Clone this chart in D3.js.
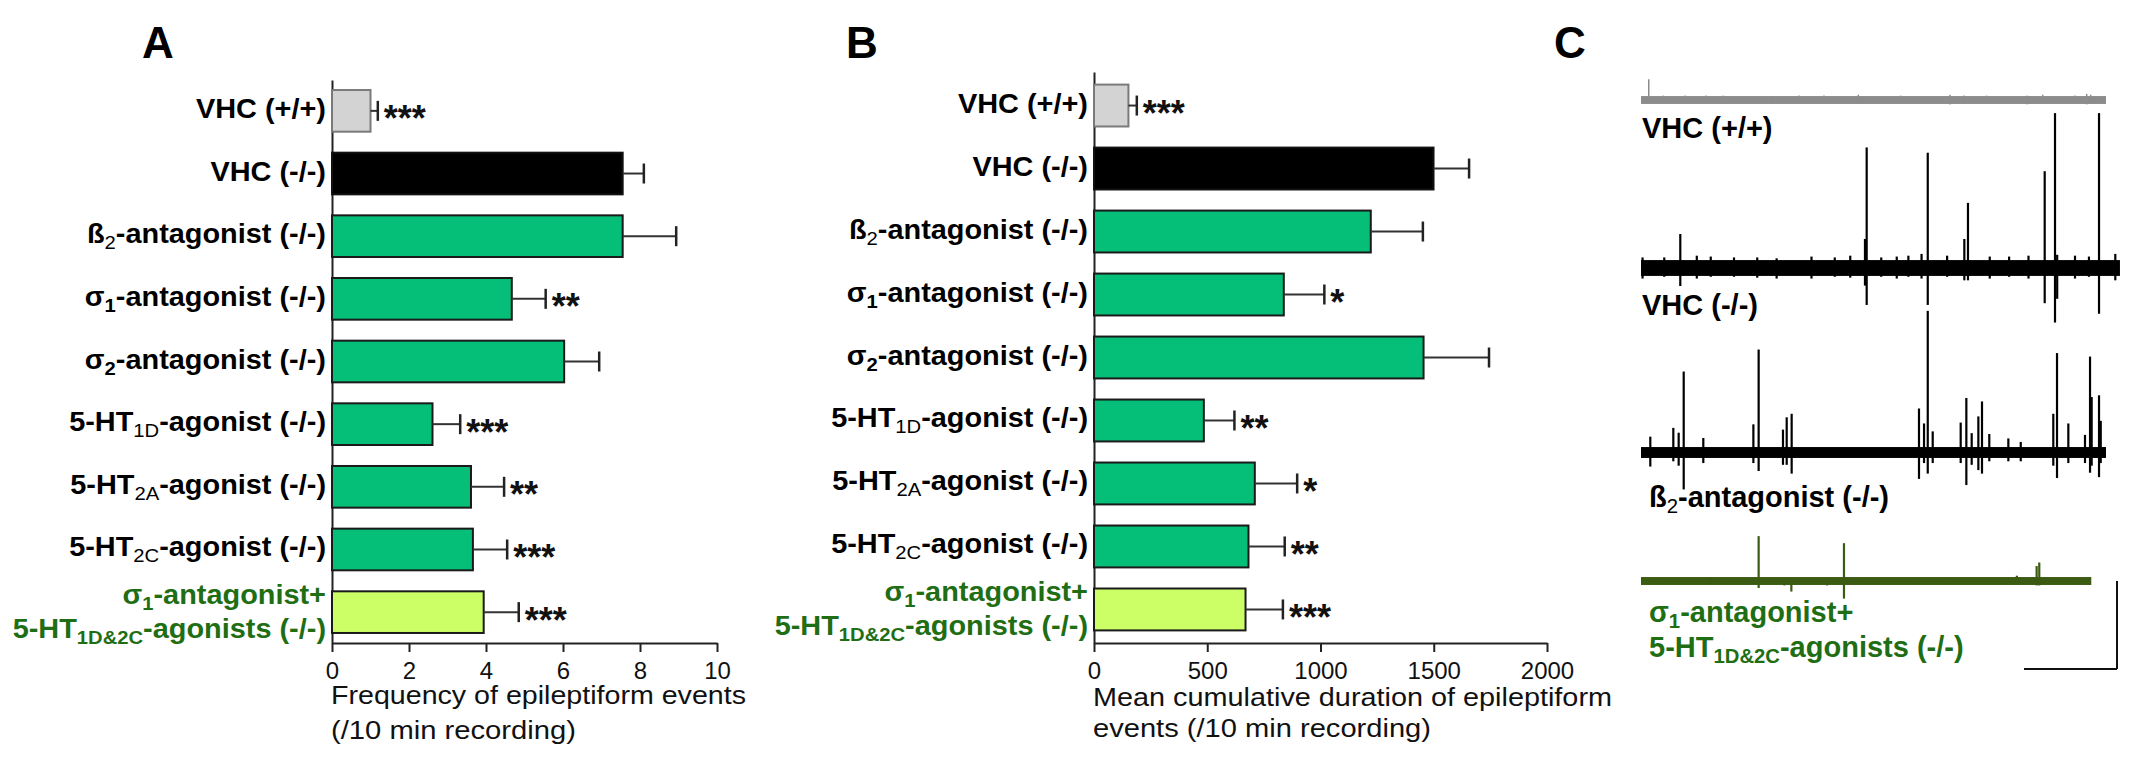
<!DOCTYPE html>
<html>
<head>
<meta charset="utf-8">
<script src="https://cdn.jsdelivr.net/npm/d3@7/dist/d3.min.js"></script>
<style>
  html, body { margin: 0; padding: 0; background: #fff; }
  svg { display: block; font-family: "Liberation Sans", Arial, sans-serif; }
</style>
</head>
<body>
<svg id="chart" width="2141" height="758"></svg>
<script>
// ---------------- DATA ----------------
const categories = [
  "VHC (+/+)",
  "VHC (-/-)",
  "ß_{2}-antagonist (-/-)",
  "σ_{1}-antagonist (-/-)",
  "σ_{2}-antagonist (-/-)",
  "5-HT_{1D}-agonist (-/-)",
  "5-HT_{2A}-agonist (-/-)",
  "5-HT_{2C}-agonist (-/-)",
  "σ_{1}-antagonist+|5-HT_{1D&2C}-agonists (-/-)"
];
const barFills = ["#d3d3d3", "#000000", "#05be78", "#05be78", "#05be78", "#05be78", "#05be78", "#05be78", "#ccff66"];
const barStrokes = ["#7a7a7a", "#111111", "#1a1a1a", "#1a1a1a", "#1a1a1a", "#1a1a1a", "#1a1a1a", "#1a1a1a", "#1a1a1a"];
const labelColors = ["#000", "#000", "#000", "#000", "#000", "#000", "#000", "#000", "#1f6e14"];

// Panel A: frequency of epileptiform events (/10 min)
const freqMean = [1.0, 7.55, 7.55, 4.67, 6.03, 2.61, 3.61, 3.66, 3.94];
const freqSem  = [0.19, 0.55, 1.39, 0.88, 0.91, 0.72, 0.86, 0.89, 0.91];
const freqSig  = ["***", "", "", "**", "", "***", "**", "***", "***"];
const freqTicks = [0, 2, 4, 6, 8, 10];

// Panel B: mean cumulative duration (/10 min)
const durMean = [152, 1499, 1222, 838, 1455, 485, 710, 682, 669];
const durSem  = [37, 157, 230, 179, 289, 135, 187, 160, 165];
const durSig  = ["***", "", "", "*", "", "**", "*", "**", "***"];
const durTicks = [0, 500, 1000, 1500, 2000];

// Panel C: example traces (time in s, amplitude in scale-bar units)
const traceNames = ["VHC (+/+)", "VHC (-/-)", "ß_{2}-antagonist (-/-)", "σ_{1}-antagonist+|5-HT_{1D&2C}-agonists (-/-)"];
const traceColors = ["#8c8c8c", "#000000", "#000000", "#3b5a12"];
const traceLabelColors = ["#000", "#000", "#000", "#1f6e14"];
const traceDurations = [600, 618, 600, 581];
const traceNoise = [0.045, 0.09, 0.062, 0.045];
// spikes: [time, upward amplitude, downward amplitude]
const spikesVHCwt = [
  [10, 0.235, 0.03], [28.8, 0.05, 0.03], [56.8, 0.05, 0.03], [83.9, 0.05, 0.03], [106.2, 0.05, 0.04],
  [168.6, 0.04, 0.04], [203.9, 0.05, 0.03], [236.1, 0.05, 0.03], [280.4, 0.06, 0.04], [307.5, 0.04, 0.03],
  [335, 0.05, 0.03], [398.7, 0.06, 0.05], [416.8, 0.05, 0.03], [446, 0.05, 0.03], [459.8, 0.04, 0.03],
  [498.5, 0.05, 0.05], [518.3, 0.06, 0.03], [560, 0.05, 0.03], [575.1, 0.07, 0.05], [580.2, 0.06, 0.04]
];
const spikesVHCko = [
  [2, 0.12, 0.12], [30, 0.12, 0.1], [50.7, 0.386, 0.205], [72, 0.14, 0.12], [90, 0.13, 0.1], [120, 0.12, 0.1],
  [150, 0.12, 0.11], [175, 0.11, 0.12], [220, 0.13, 0.12], [250, 0.12, 0.1], [270, 0.14, 0.11],
  [289, 0.33, 0.2], [291.2, 1.37, 0.42], [310, 0.12, 0.1], [330, 0.13, 0.12], [345, 0.14, 0.1],
  [362, 0.16, 0.12], [370, 1.31, 0.42], [395, 0.14, 0.1], [417.2, 0.33, 0.14], [421.9, 0.74, 0.14],
  [450, 0.13, 0.12], [475, 0.13, 0.1], [500, 0.14, 0.12], [520.9, 1.10, 0.40],
  [534.2, 1.76, 0.62], [537, 0.15, 0.35], [560, 0.14, 0.12], [578, 0.13, 0.1], [591, 1.76, 0.52], [612, 0.16, 0.14]
];
const spikesBeta2 = [
  [12, 0.18, 0.16], [41.7, 0.28, 0.1], [48.6, 0.225, 0.15], [55.1, 0.92, 0.42], [80.4, 0.165, 0.12],
  [145, 0.32, 0.12], [151.8, 1.17, 0.21], [183.2, 0.26, 0.14], [188, 0.40, 0.14], [194.4, 0.44, 0.24],
  [358.7, 0.50, 0.30], [365.2, 0.33, 0.12], [370, 1.61, 0.24], [376.4, 0.24, 0.12],
  [412.5, 0.34, 0.12], [419.8, 0.62, 0.37], [426.7, 0.22, 0.14], [435.3, 0.41, 0.2], [440, 0.58, 0.24],
  [449.4, 0.21, 0.1], [474, 0.16, 0.1], [490, 0.12, 0.1], [532, 0.44, 0.15], [536.8, 1.13, 0.29],
  [551.4, 0.33, 0.12], [572.9, 0.20, 0.12], [579.4, 1.09, 0.23], [581.5, 0.63, 0.15],
  [591, 0.65, 0.28], [593.2, 0.36, 0.12]
];
const spikesCombo = [
  [27, 0.03, 0.03], [90, 0.04, 0.03], [112, 0.04, 0.03], [151.8, 0.51, 0.08], [185, 0.03, 0.05],
  [194, 0.03, 0.12], [240, 0.03, 0.05], [261.9, 0.43, 0.20], [290, 0.03, 0.04], [305, 0.03, 0.04],
  [355, 0.03, 0.04], [398, 0.04, 0.04], [470, 0.03, 0.04], [485, 0.06, 0.04], [510.5, 0.17, 0.05],
  [513.9, 0.21, 0.05], [560, 0.03, 0.04]
];
const traceSpikes = [spikesVHCwt, spikesVHCko, spikesBeta2, spikesCombo];
const scaleBarTime = 120; // s
const scaleBarAmp = 1;    // amplitude units

// ---------------- DRAW ----------------
const svg = d3.select("#chart");
const FONT = '"Liberation Sans", Arial, sans-serif';

function richText(g, str, opts) {
  const lines = str.split("|");
  const text = g.append("text")
    .attr("text-anchor", opts.anchor || "end")
    .attr("font-size", opts.size)
    .attr("font-weight", "bold")
    .attr("fill", opts.color)
    .attr("font-family", FONT)
    .attr("transform", `translate(${opts.x},${opts.y}) scale(${opts.sx || 1},1)`);
  lines.forEach((line, li) => {
    const tokens = line.split(/(_\{[^}]*\})/).filter(s => s.length);
    let first = true;
    let shifted = false;
    tokens.forEach(tok => {
      const ts = text.append("tspan");
      if (first) ts.attr("x", 0).attr("y", li * opts.lineGap);
      if (tok.startsWith("_{")) {
        ts.text(tok.slice(2, -1))
          .attr("font-size", opts.size * 0.7)
          .attr("font-weight", opts.subWeight || "normal");
        if (first) ts.attr("y", li * opts.lineGap + opts.subDrop);
        else ts.attr("dy", opts.subDrop);
        shifted = true;
      } else {
        ts.text(tok);
        if (shifted) { ts.attr("dy", -opts.subDrop); shifted = false; }
      }
      first = false;
    });
  });
  return text;
}

function barPanel(cfg) {
  const g = svg.append("g");
  const x = d3.scaleLinear().domain(cfg.domain).range(cfg.xRange);
  const y = d3.scaleBand().domain(d3.range(categories.length))
    .range(cfg.yRange).paddingInner(0.335).paddingOuter(cfg.outer);

  g.append("g")
    .attr("transform", `translate(${cfg.xRange[0]},0)`)
    .call(d3.axisLeft(y).tickValues([]).tickSizeOuter(0))
    .call(s => s.select(".domain").attr("stroke", "#222").attr("stroke-width", 2));

  const xa = g.append("g")
    .attr("transform", `translate(0,${cfg.yRange[1]})`)
    .call(d3.axisBottom(x).tickValues(cfg.ticks).tickFormat(d3.format("d"))
      .tickSize(9).tickSizeOuter(0).tickPadding(10));
  xa.select(".domain").attr("stroke", "#222").attr("stroke-width", 2);
  xa.selectAll(".tick line").attr("stroke", "#222").attr("stroke-width", 2);
  xa.selectAll(".tick text").attr("font-size", 24).attr("font-family", FONT).attr("fill", "#111");

  g.selectAll("rect.bar").data(cfg.mean).join("rect")
    .attr("class", "bar")
    .attr("x", x(0))
    .attr("y", (d, i) => y(i))
    .attr("width", d => x(d) - x(0))
    .attr("height", y.bandwidth())
    .attr("fill", (d, i) => barFills[i])
    .attr("stroke", (d, i) => barStrokes[i])
    .attr("stroke-width", 2);

  const eb = g.selectAll("g.err").data(cfg.mean).join("g").attr("class", "err");
  eb.append("line")
    .attr("x1", d => x(d)).attr("x2", (d, i) => x(d + cfg.sem[i]))
    .attr("y1", (d, i) => y(i) + y.bandwidth() / 2).attr("y2", (d, i) => y(i) + y.bandwidth() / 2)
    .attr("stroke", "#333").attr("stroke-width", 2);
  eb.append("line")
    .attr("x1", (d, i) => x(d + cfg.sem[i])).attr("x2", (d, i) => x(d + cfg.sem[i]))
    .attr("y1", (d, i) => y(i) + y.bandwidth() / 2 - 10).attr("y2", (d, i) => y(i) + y.bandwidth() / 2 + 10)
    .attr("stroke", "#222").attr("stroke-width", 2.5);

  g.selectAll("text.sig").data(cfg.mean).join("text")
    .attr("class", "sig")
    .attr("x", (d, i) => x(d + cfg.sem[i]) + 6)
    .attr("y", (d, i) => y(i) + y.bandwidth() / 2 + 20.5)
    .attr("font-size", 36).attr("font-weight", "bold").attr("font-family", FONT)
    .attr("fill", "#111")
    .text((d, i) => cfg.sig[i]);

  categories.forEach((c, i) => {
    const cy = y(i) + y.bandwidth() / 2;
    const twoLine = c.includes("|");
    richText(g, c, {
      x: cfg.xRange[0] - 6,
      y: twoLine ? cy - 8.5 : cy + 7,
      size: 27, sx: 1.07, color: labelColors[i], lineGap: 34, subDrop: 6,
      subWeight: c.startsWith("σ") ? "bold" : "normal"
    });
  });

  cfg.title.forEach((t, li) => {
    g.append("text")
      .attr("x", cfg.xRange[0] - 1).attr("y", cfg.titleY[li])
      .attr("font-size", 26).attr("font-family", FONT).attr("fill", "#111")
      .attr("textLength", cfg.titleLen[li]).attr("lengthAdjust", "spacingAndGlyphs")
      .text(t);
  });

  svg.append("text").attr("x", cfg.letterX).attr("y", 58)
    .attr("font-size", 44).attr("font-weight", "bold").attr("font-family", FONT)
    .text(cfg.letter);
}

barPanel({
  letter: "A", letterX: 142,
  domain: [0, 10], xRange: [332, 717], yRange: [80, 643], outer: 0.16,
  ticks: freqTicks, mean: freqMean, sem: freqSem, sig: freqSig,
  title: ["Frequency of epileptiform events", "(/10 min recording)"],
  titleY: [704, 739], titleLen: [415, 245]
});

barPanel({
  letter: "B", letterX: 846,
  domain: [0, 2000], xRange: [1094, 1547], yRange: [72, 643], outer: 0.2,
  ticks: durTicks, mean: durMean, sem: durSem, sig: durSig,
  title: ["Mean cumulative duration of epileptiform", "events (/10 min recording)"],
  titleY: [706, 737], titleLen: [519, 338]
});

// ---------------- Panel C ----------------
const gc = svg.append("g");
gc.append("text").attr("x", 1554).attr("y", 58)
  .attr("font-size", 44).attr("font-weight", "bold").attr("font-family", FONT).text("C");

const tx = d3.scaleLinear().domain([0, 600]).range([1641, 2106]);
const amp = d3.scaleLinear().domain([0, 1]).range([0, 88]);
const traceBase = [100, 268, 452.5, 581];
const labelPos = [[1642, 138], [1642, 315], [1649, 507], [1649, 622]];

traceNames.forEach((name, k) => {
  const base = traceBase[k];
  const tg = gc.append("g");
  tg.append("rect")
    .attr("x", tx(0)).attr("width", tx(traceDurations[k]) - tx(0))
    .attr("y", base - amp(traceNoise[k])).attr("height", 2 * amp(traceNoise[k]))
    .attr("fill", traceColors[k]);
  tg.selectAll("line").data(traceSpikes[k]).join("line")
    .attr("x1", d => tx(d[0])).attr("x2", d => tx(d[0]))
    .attr("y1", d => base - amp(d[1])).attr("y2", d => base + amp(d[2]))
    .attr("stroke", traceColors[k]).attr("stroke-width", k === 0 ? 1.5 : 2.2);
  richText(gc, name, {
    x: labelPos[k][0], y: labelPos[k][1], anchor: "start",
    size: 29, sx: 1, color: traceLabelColors[k], lineGap: 35, subDrop: 6,
    subWeight: name.startsWith("σ") ? "bold" : "normal"
  });
});

const sbX = 2117, sbY = 669;
gc.append("line").attr("x1", sbX).attr("x2", sbX).attr("y1", sbY).attr("y2", sbY - amp(scaleBarAmp))
  .attr("stroke", "#111").attr("stroke-width", 2);
gc.append("line").attr("x1", sbX - (tx(scaleBarTime) - tx(0))).attr("x2", sbX).attr("y1", sbY).attr("y2", sbY)
  .attr("stroke", "#111").attr("stroke-width", 2);
</script>
</body>
</html>
